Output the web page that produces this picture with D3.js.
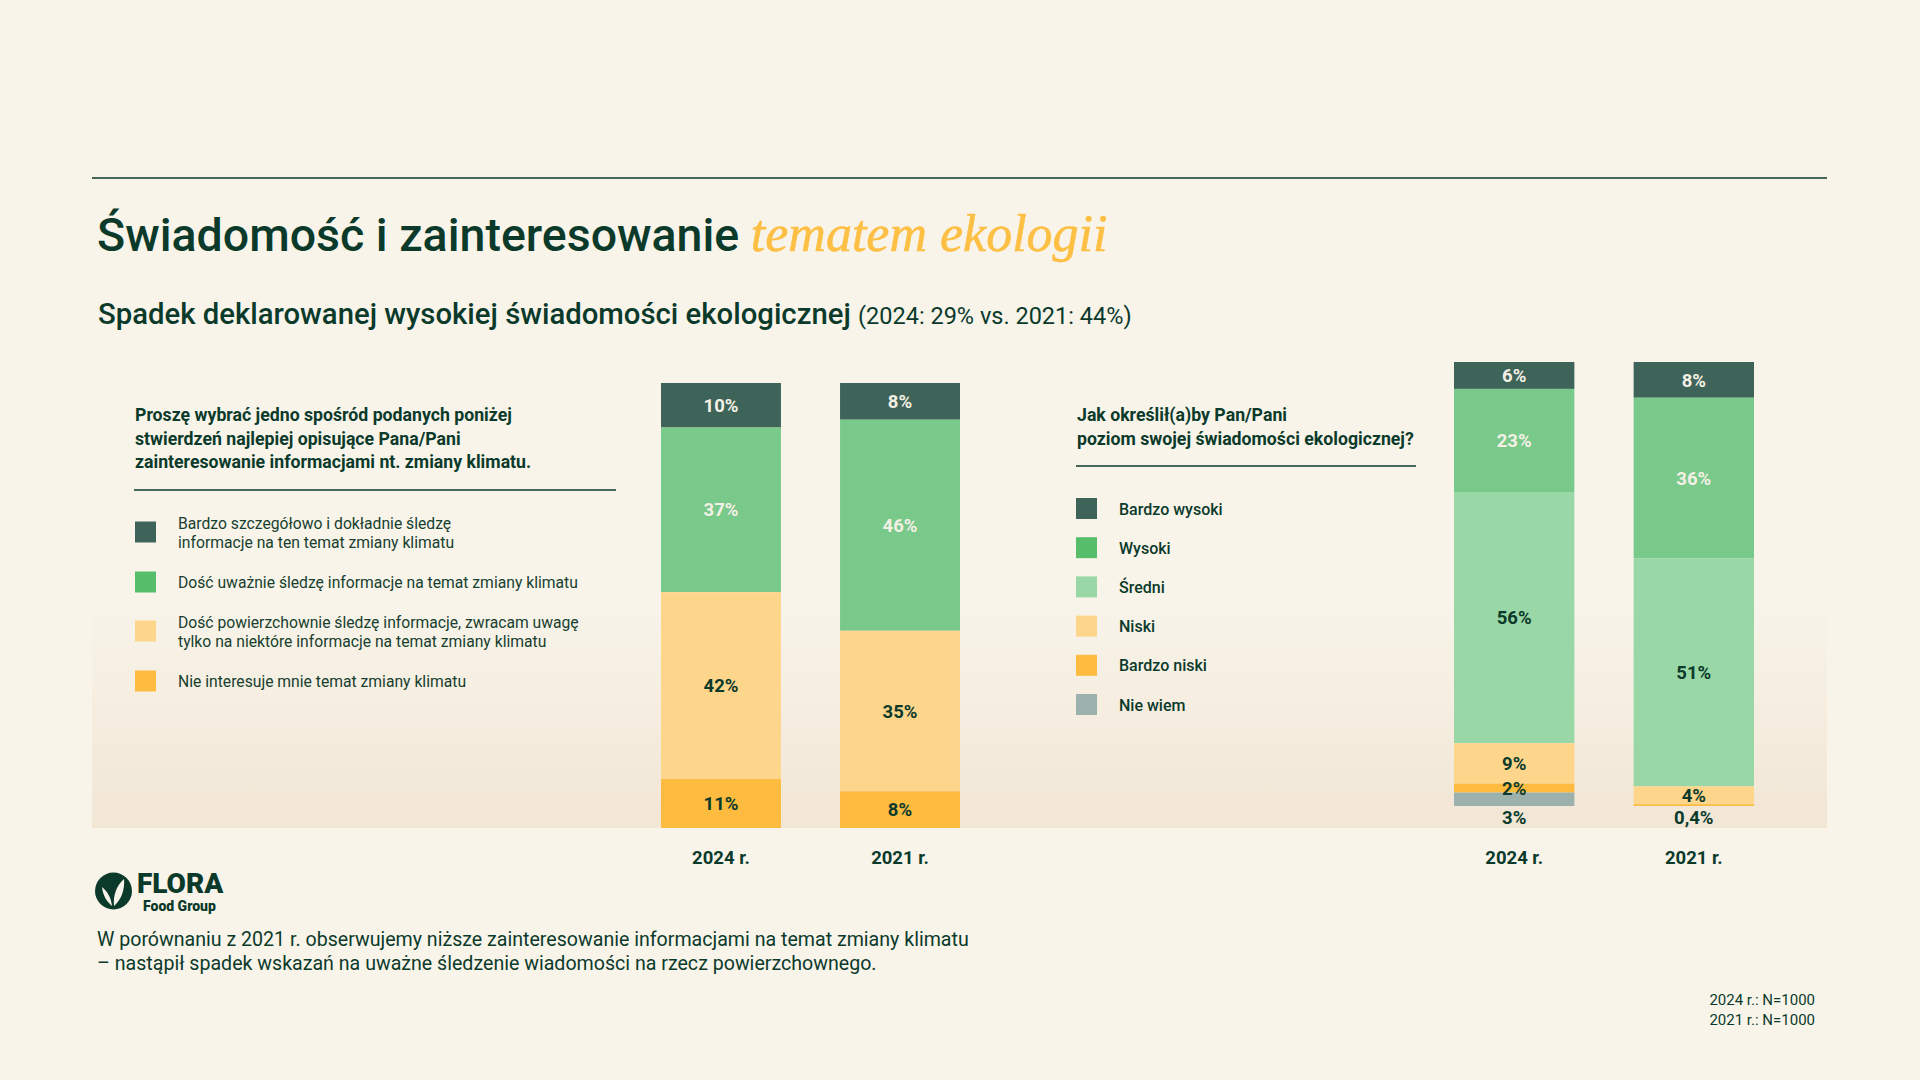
<!DOCTYPE html>
<html><head><meta charset="utf-8">
<script src="https://cdn.jsdelivr.net/npm/d3@7"></script>
<style>
html,body{margin:0;padding:0;background:#f8f4ea;}
svg{display:block;font-family:Roboto,"Noto Sans",sans-serif;}
</style></head><body>
<svg id="chart" width="1920" height="1080"></svg>
<script>
// ---------- DATA ----------
const years = ["2024 r.", "2021 r."];
const interestCategories = [
  "Bardzo szczegółowo i dokładnie śledzę\ninformacje na ten temat zmiany klimatu",
  "Dość uważnie śledzę informacje na temat zmiany klimatu",
  "Dość powierzchownie śledzę informacje, zwracam uwagę\ntylko na niektóre informacje na temat zmiany klimatu",
  "Nie interesuje mnie temat zmiany klimatu"
];
const interest2024 = [10, 37, 42, 11];
const interest2021 = [8, 46, 35, 8];

const awarenessCategories = ["Bardzo wysoki", "Wysoki", "Średni", "Niski", "Bardzo niski", "Nie wiem"];
const awareness2024 = [6, 23, 56, 9, 2, 3];
const awareness2021 = [8, 36, 51, 4, 0.4, 0];

const interestColors = ["#3e6358", "#78c98a", "#fed68b", "#fdbb40"];
const interestLegendColors = ["#3e6358", "#56be6b", "#fed68b", "#fdbb40"];
const awarenessColors = ["#3e6358", "#78c98a", "#99d7a6", "#fed68b", "#fdbb40", "#9cb1ab"];
const awarenessLegendColors = ["#3e6358", "#56be6b", "#99d7a6", "#fed68b", "#fdbb40", "#9cb1ab"];
const lightLabelCount = 2; // first two segments get light text

const titleMain = "Świadomość i zainteresowanie ";
const titleAccent = "tematem ekologii";
const subtitleMain = "Spadek deklarowanej wysokiej świadomości ekologicznej ";
const subtitleNote = "(2024: 29% vs. 2021: 44%)";
const questionLeft = ["Proszę wybrać jedno spośród podanych poniżej", "stwierdzeń najlepiej opisujące Pana/Pani", "zainteresowanie informacjami nt. zmiany klimatu."];
const questionRight = ["Jak określił(a)by Pan/Pani", "poziom swojej świadomości ekologicznej?"];
const footer = ["W porównaniu z 2021 r. obserwujemy niższe zainteresowanie informacjami na temat zmiany klimatu", "– nastąpił spadek wskazań na uważne śledzenie wiadomości na rzecz powierzchownego."];
const sampleNotes = ["2024 r.: N=1000", "2021 r.: N=1000"];

// ---------- SETUP ----------
const TEXT = "#0b3a2b";
const svg = d3.select("#chart");
const defs = svg.append("defs");
const grad = defs.append("linearGradient").attr("id", "panelGrad").attr("x1", 0).attr("y1", 0).attr("x2", 0).attr("y2", 1);
grad.append("stop").attr("offset", "0%").attr("stop-color", "#f8f4ea");
grad.append("stop").attr("offset", "100%").attr("stop-color", "#f2e6d5");

svg.append("rect").attr("width", 1920).attr("height", 1080).attr("fill", "#f8f4ea");
svg.append("rect").attr("x", 92).attr("y", 600).attr("width", 1735).attr("height", 228).attr("fill", "url(#panelGrad)");

svg.append("line").attr("x1", 92).attr("x2", 1827).attr("y1", 178).attr("y2", 178)
  .attr("stroke", "#0b3a2b").attr("stroke-width", 1.5);

// Title
const t = svg.append("text").attr("x", 97).attr("y", 251).attr("fill", TEXT);
t.append("tspan").text(titleMain).attr("font-size", 46.5).attr("font-weight", 500);
t.append("tspan").text(titleAccent).attr("font-family", "'Liberation Serif','DejaVu Serif',serif")
  .attr("font-style", "italic").attr("font-size", 52).attr("fill", "#fdbf44")
  .attr("stroke", "#fdbf44").attr("stroke-width", 0.6);

const st = svg.append("text").attr("x", 98).attr("y", 324).attr("fill", TEXT);
st.append("tspan").text(subtitleMain).attr("font-size", 29.3).attr("font-weight", 500);
st.append("tspan").text(subtitleNote).attr("font-size", 23.5).attr("font-weight", 400);

// Questions
function question(lines, x, y0, lineX2, lineY) {
  const g = svg.append("g");
  lines.forEach((l, i) => g.append("text").attr("x", x).attr("y", y0 + i * 23.5)
    .attr("font-size", 17.7).attr("font-weight", 700).attr("fill", TEXT).text(l));
  g.append("line").attr("x1", x - 1).attr("x2", lineX2).attr("y1", lineY).attr("y2", lineY)
    .attr("stroke", TEXT).attr("stroke-width", 1.3);
}
question(questionLeft, 135, 421, 616, 490);
question(questionRight, 1077, 421, 1416, 466);

// Legends
const legL = svg.append("g");
interestCategories.forEach((c, i) => {
  const cy = [532, 582, 631, 681][i];
  legL.append("rect").attr("x", 135).attr("y", cy - 10.5).attr("width", 21).attr("height", 21).attr("fill", interestLegendColors[i]);
  const lines = c.split("\n");
  lines.forEach((l, j) => {
    const by = lines.length === 1 ? cy + 6 : cy - 3 + j * 19;
    legL.append("text").attr("x", 178).attr("y", by).attr("font-size", 15.7).attr("fill", "#17402f").text(l);
  });
});
const legR = svg.append("g");
awarenessCategories.forEach((c, i) => {
  const cy = 508.5 + i * 39.2;
  legR.append("rect").attr("x", 1076).attr("y", cy - 10.5).attr("width", 21).attr("height", 21).attr("fill", awarenessLegendColors[i]);
  legR.append("text").attr("x", 1119).attr("y", cy + 6).attr("font-size", 16).attr("font-weight", 500).attr("fill", TEXT).text(c);
});

// Stacked bars
function fmt(v) { return String(v).replace(".", ",") + "%"; }
function stackedChart(cats, seriesByYear, colors, x0, x1, top, bottom) {
  const rows = years.map((yr, i) => {
    const r = { year: yr };
    cats.forEach((c, k) => r[c] = seriesByYear[i][k]);
    return r;
  });
  const stack = d3.stack().keys(cats).offset(d3.stackOffsetExpand);
  const layers = stack(rows);
  const x = d3.scaleBand().domain(years).range([x0, x1]).paddingInner(0.33).paddingOuter(0);
  const y = d3.scaleLinear().domain([0, 1]).range([top, bottom]);
  const g = svg.append("g");
  layers.forEach((layer, k) => {
    g.selectAll(null).data(layer).join("rect")
      .attr("x", d => x(d.data.year)).attr("width", x.bandwidth())
      .attr("y", d => y(d[0])).attr("height", d => Math.max(0, y(d[1]) - y(d[0])))
      .attr("fill", colors[k]);
  });
  // labels
  layers.forEach((layer, k) => {
    layer.forEach((d, i) => {
      const v = d.data[layer.key];
      if (!v) return;
      const h = y(d[1]) - y(d[0]);
      const isLast = layers.slice(k + 1).every(L => !L[i].data[L.key]);
      let ly = (y(d[0]) + y(d[1])) / 2;
      if (isLast && h < 14) ly = bottom + 11;
      g.append("text").attr("x", x(d.data.year) + x.bandwidth() / 2).attr("y", ly)
        .attr("dy", "0.36em").attr("text-anchor", "middle").attr("font-size", 18.5).attr("font-weight", 700)
        .attr("fill", k < lightLabelCount ? "#f4f0e5" : TEXT).text(fmt(v));
    });
  });
  // axis
  const axis = d3.axisBottom(x).tickSize(0).tickPadding(0);
  const ag = svg.append("g").attr("transform", "translate(0,857)").call(axis);
  ag.select(".domain").remove();
  ag.selectAll("text").attr("font-family", "Roboto").attr("font-size", 18.5).attr("font-weight", 700)
    .attr("fill", TEXT).attr("dy", "0.36em");
}
stackedChart(interestCategories, [interest2024, interest2021], interestColors, 661, 960, 383, 828);
stackedChart(awarenessCategories, [awareness2024, awareness2021], awarenessColors, 1454, 1754, 362, 806);

// Logo
const logo = svg.append("g");
logo.append("circle").attr("cx", 113.5).attr("cy", 891).attr("r", 18.5).attr("fill", "#0b3a2b");
logo.append("path").attr("d", "M112,906 C111,898 108,892 102,887 C103,895 106,901 112,906 Z").attr("fill", "#f8f4ea");
logo.append("path").attr("d", "M114,906 C113,896 116,886 124,879 C125,890 121,900 114,906 Z").attr("fill", "#f8f4ea");
logo.append("text").attr("x", 137).attr("y", 893).attr("font-size", 28).attr("font-weight", 900).attr("fill", "#0b3a2b").text("FLORA");
logo.append("text").attr("x", 143).attr("y", 911).attr("font-size", 14).attr("font-weight", 900).attr("fill", "#0b3a2b").text("Food Group");

// Footer
footer.forEach((l, i) => svg.append("text").attr("x", 97).attr("y", 946 + i * 24)
  .attr("font-size", 19.6).attr("fill", TEXT).text(l));
sampleNotes.forEach((l, i) => svg.append("text").attr("x", 1815).attr("y", 1005 + i * 19.5)
  .attr("text-anchor", "end").attr("font-size", 15).attr("fill", TEXT).text(l));
</script>
</body></html>
